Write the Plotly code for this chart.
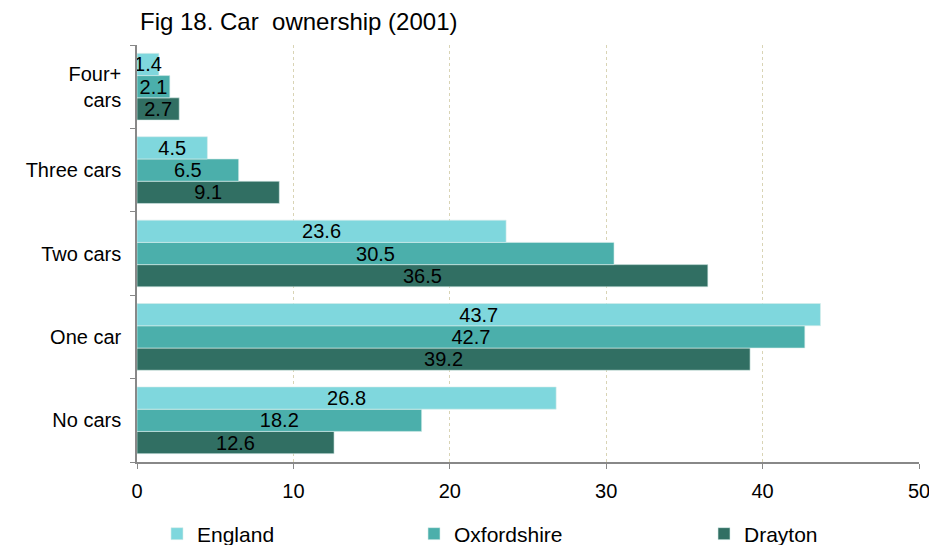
import plotly.graph_objects as go

categories = ["No cars", "One car", "Two cars", "Three cars", "Four+<br>cars"]
england = [26.8, 43.7, 23.6, 4.5, 1.4]
oxfordshire = [18.2, 42.7, 30.5, 6.5, 2.1]
drayton = [12.6, 39.2, 36.5, 9.1, 2.7]
x_ticks = [0, 10, 20, 30, 40, 50]

FONT = "Liberation Sans, Arial, sans-serif"

# page has an 8px body margin; plot area: x 137..919, y 45..462 (page px)
W, H = 929, 560
L, T = 129, 37
R = W + 8 - 919
B = H + 8 - 462
PW = 919 - 137
PH = 462 - 45

series = [
    ("Drayton", drayton, "#316F63", "legend3"),
    ("Oxfordshire", oxfordshire, "#4BAFAB", "legend2"),
    ("England", england, "#7FD7DD", "legend"),
]

fig = go.Figure()
for name, vals, color, leg in series:
    fig.add_trace(go.Bar(
        y=categories, x=vals, name=name, orientation="h",
        marker=dict(color=color, line=dict(color="#D8ECEA", width=0.6)),
        text=[f"{v:.1f}" for v in vals],
        textposition="inside", insidetextanchor="middle",
        constraintext="none", textangle=0,
        textfont=dict(family=FONT, size=20, color="#000000"),
        legend=leg, showlegend=True,
    ))

leg_common = dict(orientation="h", yanchor="middle", y=(462 - 534) / PH,
                  xanchor="left",
                  font=dict(family=FONT, size=21, color="#000000"),
                  bgcolor="rgba(0,0,0,0)", itemwidth=30)
fig.update_layout(
    width=W, height=H,
    margin=dict(l=L, r=R, t=T, b=B, autoexpand=False),
    plot_bgcolor="white", paper_bgcolor="white",
    barmode="group", bargap=0.2, bargroupgap=0,
    title=dict(text="Fig 18. Car  ownership (2001)", x=(140 - 8) / W, xanchor="left",
               y=1 - (22 - 8) / H, yanchor="middle",
               font=dict(family=FONT, size=24, color="#000000")),
    legend=dict(x=(157 - 137) / PW, **leg_common),
    legend2=dict(x=(414 - 137) / PW, **leg_common),
    legend3=dict(x=(704 - 137) / PW, **leg_common),
    xaxis=dict(range=[0, 50], tickvals=x_ticks, showgrid=True,
               gridcolor="#D9D4B5", griddash="dot", gridwidth=1,
               showline=True, linecolor="#888888", linewidth=1.5,
               ticks="outside", ticklen=5, tickcolor="#888888",
               ticklabelstandoff=5,
               tickfont=dict(family=FONT, size=20, color="#000000"),
               zeroline=False, automargin=False),
    yaxis=dict(range=[-0.5, 4.5], showgrid=False, showline=True,
               linecolor="#888888", linewidth=1.5,
               ticks="outside", ticklen=5, tickcolor="#888888",
               tickson="boundaries", automargin=False,
               ticklabelstandoff=10,
               tickfont=dict(family=FONT, size=20, color="#000000")),
)
fig.write_html("out.html")
